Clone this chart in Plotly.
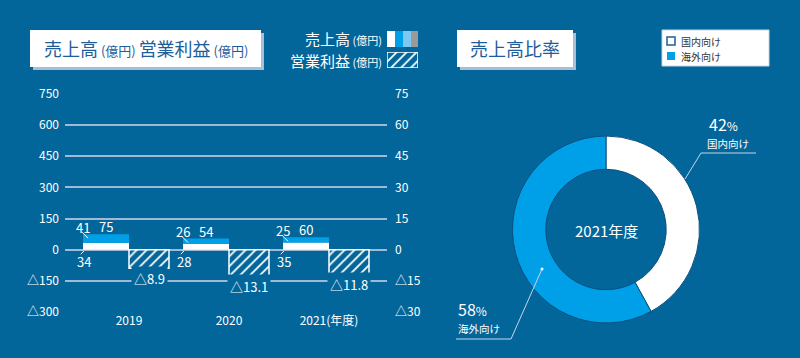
import plotly.graph_objects as go

# ---------------- data ----------------
years = ["2019", "2020", "2021(年度)"]
domestic = [34, 28, 35]          # 国内向け 売上高 (億円)
overseas = [41, 26, 25]          # 海外向け 売上高 (億円)
profit = [-8.9, -13.1, -11.8]    # 営業利益 (億円)
left_ticks = [-300, -150, 0, 150, 300, 450, 600, 750]
right_ticks = [-30, -15, 0, 15, 30, 45, 60, 75]
share_labels = ["国内向け", "海外向け"]
share_values = [42, 58]

# ---------------- styles ----------------
BG = "#03669b"
BLUE = "#00a0e9"
LIGHTBLUE = "#7cc8f0"
GRID = "#a0b9d6"
TITLE = "#1d5d9a"
FONT = "Noto Sans CJK JP, Noto Sans, sans-serif"
W, H = 800, 358

def X(p):
    return p / W

def Y(p):
    return 1 - p / H

def tri(v):
    return ("△" + f"{abs(v):g}") if v < 0 else f"{v:g}"

total = [d + o for d, o in zip(domestic, overseas)]
xs = list(range(len(years)))

fig = go.Figure()

# sales stacked bars (left axis)
fig.add_trace(go.Bar(x=xs, y=domestic, offset=-0.46, width=0.46,
                     marker=dict(color="white", line=dict(width=0)),
                     xaxis="x", yaxis="y", hoverinfo="skip"))
fig.add_trace(go.Bar(x=xs, y=overseas, offset=-0.46, width=0.46,
                     marker=dict(color=BLUE, line=dict(width=0)),
                     xaxis="x", yaxis="y", hoverinfo="skip"))
# operating profit (right axis)
hatch = dict(shape="/", fgcolor="white", bgcolor=BG, size=7, solidity=0.25, fillmode="replace")
fig.add_trace(go.Bar(x=xs, y=profit, offset=0.0, width=0.40,
                     marker=dict(color=BG, line=dict(color="white", width=1.5), pattern=hatch),
                     xaxis="x", yaxis="y2", hoverinfo="skip"))
# legend swatch for profit (hatched)
fig.add_trace(go.Bar(x=[0], y=[1], width=1,
                     marker=dict(color=BG, line=dict(color="white", width=1.5), pattern=hatch),
                     xaxis="x3", yaxis="y3", hoverinfo="skip"))

# donut
fig.add_trace(go.Pie(values=share_values, labels=share_labels, sort=False,
                     direction="clockwise", rotation=0, hole=0.644,
                     textinfo="none", hoverinfo="skip",
                     marker=dict(colors=["white", BLUE], line=dict(color="#0b4f80", width=1)),
                     domain=dict(x=[X(512), X(700)], y=[Y(323), Y(136)])))

annotations = []
shapes = []

def note(x, y, text, size, color="white", xanchor="center", xref="paper", yref="paper", **kw):
    annotations.append(dict(x=x, y=y, xref=xref, yref=yref, text=text, showarrow=False,
                            xanchor=xanchor, yanchor="middle",
                            font=dict(size=size, color=color, family=FONT), **kw))

# bar value labels
for i in xs:
    bl = i - 0.46
    note(bl, total[i], str(overseas[i]), 13, xref="x", yref="y", yshift=7, xshift=-0.5)
    shapes.append(dict(type="line", xref="x", yref="y", xsizemode="pixel", ysizemode="pixel",
                       xanchor=bl, yanchor=total[i], x0=-1, y0=2, x1=5, y1=-4,
                       line=dict(color="white", width=1)))
    note(i - 0.23, total[i], str(total[i]), 13, xref="x", yref="y", yshift=7.5)
    note(bl, 0, str(domestic[i]), 13, xref="x", yref="y", yshift=-12, xshift=1)
    shapes.append(dict(type="line", xref="x", yref="y", xsizemode="pixel", ysizemode="pixel",
                       xanchor=bl, yanchor=0, x0=-2.3, y0=-4.5, x1=1, y1=-1.2,
                       line=dict(color="white", width=1)))
    note(i + 0.2, profit[i], tri(profit[i]), 13, xref="x", yref="y2", yshift=-10,
         bgcolor=BG, borderpad=2)

# title box 1
shapes.append(dict(type="rect", xref="paper", yref="paper", x0=X(33), x1=X(264), y0=Y(70), y1=Y(33),
                   fillcolor="#a9bdd6", line=dict(width=0), layer="above"))
shapes.append(dict(type="rect", xref="paper", yref="paper", x0=X(30), x1=X(261), y0=Y(67), y1=Y(30),
                   fillcolor="white", line=dict(width=0), layer="above"))
note(X(146), Y(48.5),
     "売上高<span style='font-size:13px'> (億円) </span>営業利益<span style='font-size:13px'> (億円)</span>",
     18, color=TITLE)

# title box 2
shapes.append(dict(type="rect", xref="paper", yref="paper", x0=X(460), x1=X(576), y0=Y(70), y1=Y(33),
                   fillcolor="#a9bdd6", line=dict(width=0), layer="above"))
shapes.append(dict(type="rect", xref="paper", yref="paper", x0=X(457), x1=X(573), y0=Y(67), y1=Y(30),
                   fillcolor="white", line=dict(width=0), layer="above"))
note(X(515), Y(48.5), "売上高比率", 18, color=TITLE)

# top legend (bar chart)
note(X(384), Y(38), "売上高<span style='font-size:11px'> (億円)</span>", 15, xanchor="right")
note(X(384), Y(60.5), "営業利益<span style='font-size:11px'> (億円)</span>", 15, xanchor="right")
for x0, x1, c in [(387, 395, "white"), (395, 403, BLUE), (403, 411, LIGHTBLUE), (411, 418, "#9a9a9a")]:
    shapes.append(dict(type="rect", xref="paper", yref="paper", x0=X(x0), x1=X(x1), y0=Y(47), y1=Y(31),
                       fillcolor=c, line=dict(width=0)))

# donut legend box
shapes.append(dict(type="rect", xref="paper", yref="paper", x0=X(662), x1=X(769), y0=Y(66), y1=Y(30),
                   fillcolor="white", line=dict(color="#c8d4e2", width=1)))
shapes.append(dict(type="rect", xref="paper", yref="paper", x0=X(667), x1=X(675), y0=Y(45), y1=Y(37),
                   fillcolor="white", line=dict(color="#1d5d9a", width=1.5)))
shapes.append(dict(type="rect", xref="paper", yref="paper", x0=X(667), x1=X(675), y0=Y(60), y1=Y(52),
                   fillcolor=BLUE, line=dict(width=0)))
note(X(679), Y(41), share_labels[0], 10, color="#333333", xanchor="left")
note(X(679), Y(56), share_labels[1], 10, color="#333333", xanchor="left")

# donut centre text
note(X(606), Y(230), "2021年度", 15)

# donut outside labels
note(X(707), Y(124), f"{share_values[0]}<span style='font-size:12px'>%</span>", 16, xanchor="left")
note(X(705), Y(143), share_labels[0], 10.5, xanchor="left")
note(X(456), Y(309), f"{share_values[1]}<span style='font-size:12px'>%</span>", 16, xanchor="left")
note(X(456), Y(328), share_labels[1], 10.5, xanchor="left")

# donut leader lines
LEAD = "#c5d5e8"
shapes.append(dict(type="path", xref="paper", yref="paper",
                   path=f"M {X(685)} {Y(179)} L {X(701)} {Y(153)} L {X(756)} {Y(153)}",
                   line=dict(color=LEAD, width=1)))
shapes.append(dict(type="path", xref="paper", yref="paper",
                   path=f"M {X(542)} {Y(269)} L {X(511)} {Y(339)} L {X(456)} {Y(339)}",
                   line=dict(color=LEAD, width=1)))
shapes.append(dict(type="circle", xref="paper", yref="paper",
                   x0=X(540.5), x1=X(543.5), y0=Y(270.5), y1=Y(267.5),
                   fillcolor="white", line=dict(width=0)))

fig.update_layout(
    width=W, height=H, margin=dict(l=0, r=0, t=0, b=0, autoexpand=False),
    paper_bgcolor=BG, plot_bgcolor="rgba(0,0,0,0)",
    barmode="relative", showlegend=False,
    font=dict(family=FONT, color="white"),
    xaxis=dict(domain=[X(65), X(387)], range=[-0.64, 2.58], tickvals=xs, ticktext=years,
               showgrid=False, zeroline=False, showline=False, ticks="", automargin=False,
               tickfont=dict(size=12, color="white"), anchor="y"),
    yaxis=dict(domain=[Y(312), Y(94)], range=[-300, 750], tickvals=left_ticks,
               ticktext=[tri(v) for v in left_ticks], showgrid=True, gridcolor=GRID, gridwidth=1.5,
               zeroline=False, showline=False, ticks="", ticklabelstandoff=5, automargin=False,
               tickfont=dict(size=12, color="white")),
    yaxis2=dict(domain=[Y(312), Y(94)], range=[-30, 75], tickvals=right_ticks,
                ticktext=[tri(v) for v in right_ticks], overlaying="y", side="right",
                showgrid=False, zeroline=False, showline=False, ticks="", ticklabelstandoff=7,
                automargin=False, tickfont=dict(size=12, color="white")),
    xaxis3=dict(domain=[X(387), X(418)], range=[-0.5, 0.5], visible=False, anchor="y3"),
    yaxis3=dict(domain=[Y(68), Y(52)], range=[0, 1], visible=False, anchor="x3"),
    annotations=annotations, shapes=shapes,
)

fig.write_html("out.html", config={"displayModeBar": False},
               post_script="document.body.style.margin='0';document.body.style.overflow='hidden';")
